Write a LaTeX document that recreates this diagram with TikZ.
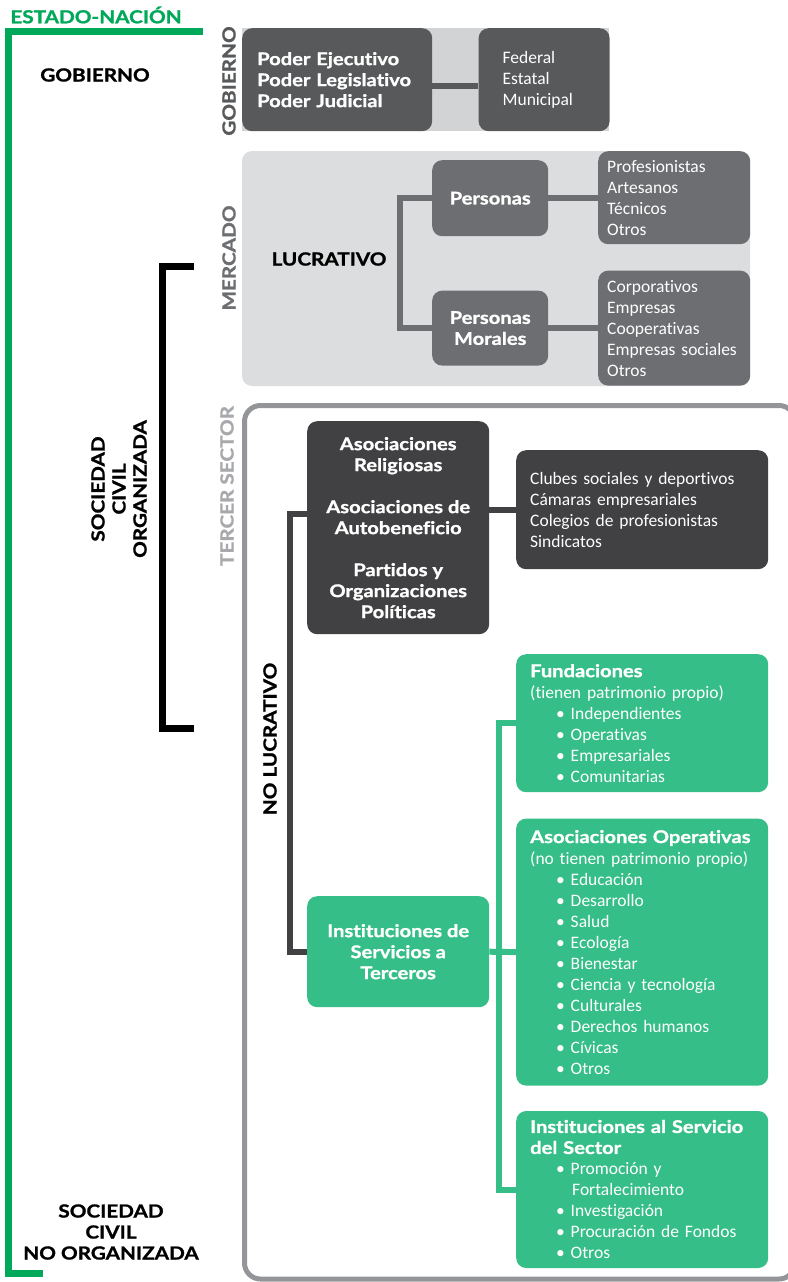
\documentclass[tikz,border=0pt]{standalone}
\usepackage{fontspec}
\setmainfont{Carlito}[Ligatures=NoCommon]
\newfontfamily\hdfont{Lato}[Ligatures=NoCommon,FakeStretch=1.15,BoldFeatures={FakeBold=1.2}]
\usetikzlibrary{positioning}

\definecolor{estado}{HTML}{00A859}
\definecolor{verde}{HTML}{35BE87}
\definecolor{gob}{HTML}{58595B}
\definecolor{merc}{HTML}{6D6E71}
\definecolor{tercer}{HTML}{414042}
\definecolor{fondo}{HTML}{DCDDDE}
\definecolor{fondogob}{HTML}{D1D3D4}
\definecolor{borde}{HTML}{939598}
\definecolor{claro}{HTML}{A7A9AC}

\newcommand{\hd}[1]{{\hdfont\bfseries\fontsize{17.5}{21}\selectfont #1}}
\newcommand{\punto}[1]{\hspace*{26pt}•\ #1}

\begin{document}
\begin{tikzpicture}[x=1pt,y=-1pt,font=\fontsize{17.5}{21}\selectfont,
  caja/.style={rounded corners=10pt,text=white,inner sep=0pt,anchor=north west},
  lista/.style={caja,align=left,inner xsep=11pt},
  titulo/.style={caja,align=center,font=\hdfont\bfseries\fontsize{17.5}{21}\selectfont},
  etiq/.style={font=\hdfont\bfseries\fontsize{18}{21}\selectfont,align=center},
  vert/.style={etiq,rotate=90},
  linea/.style={line width=6pt}]
\useasboundingbox (0,0) rectangle (787,1282);

% fondos
\fill[fondogob] (242,28) rectangle (609,131);
\fill[fondo,rounded corners=10pt] (242,151) rectangle (750,386);
\draw[borde,line width=5pt,rounded corners=16pt] (244.5,405.5) rectangle (795,1279);

% corchetes
\draw[estado,line width=7pt] (203,31.5) -| (8,1273) -- (43,1273);
\draw[black,line width=7pt] (194,266) -| (162,728.5) -- (194,728.5);

% gobierno
\node[caja,fill=gob,align=left,inner xsep=15pt,text width=160pt,minimum width=190pt,minimum height=103pt,
  font=\hdfont\bfseries\fontsize{17.5}{21}\selectfont] (poderes) at (242,28) {Poder Ejecutivo\\Poder Legislativo\\Poder Judicial};
\node[lista,fill=gob,inner xsep=24pt,text width=83pt,minimum width=131pt,minimum height=103pt,right=46pt of poderes] (niveles) {Federal\\Estatal\\Municipal};

% mercado
\node[titulo,fill=merc,minimum width=116pt,minimum height=76pt] (pers) at (432,160) {Personas};
\node[titulo,fill=merc,minimum width=116pt,minimum height=75pt,below=54pt of pers] (morales) {Personas\\Morales};
\node[lista,fill=merc,inner xsep=9pt,text width=134pt,minimum width=152pt,minimum height=93pt] (fisicas) at (598,151) {Profesionistas\\Artesanos\\Técnicos\\Otros};
\node[lista,fill=merc,inner xsep=9pt,text width=134pt,minimum width=152pt,minimum height=115pt,below=26pt of fisicas] (empresas) {Corporativos\\Empresas\\Cooperativas\\Empresas sociales\\Otros};

% tercer sector
\node[titulo,fill=tercer,minimum width=182pt,minimum height=213pt] (asoc) at (307,421)
  {Asociaciones\\Religiosas\\[21pt]Asociaciones de\\Autobeneficio\\[21pt]Partidos y\\Organizaciones\\Políticas};
\node[lista,fill=tercer,inner xsep=14pt,text width=224pt,minimum width=252pt,minimum height=119pt] (autob) at (516,450)
  {Clubes sociales y deportivos\\Cámaras empresariales\\Colegios de profesionistas\\Sindicatos};
\node[titulo,fill=verde,minimum width=182pt,minimum height=111pt] (inst) at (307,896) {Instituciones de\\Servicios a\\Terceros};
\node[lista,fill=verde,inner xsep=14pt,text width=224pt,minimum width=252pt,minimum height=138pt] (fund) at (516,654)
  {\hd{Fundaciones}\\(tienen patrimonio propio)\\\punto{Independientes}\\\punto{Operativas}\\\punto{Empresariales}\\\punto{Comunitarias}};
\node[lista,fill=verde,inner xsep=14pt,text width=224pt,minimum width=252pt,minimum height=267pt,below=26pt of fund] (asocop)
  {\hd{Asociaciones Operativas}\\(no tienen patrimonio propio)\\\punto{Educación}\\\punto{Desarrollo}\\\punto{Salud}\\\punto{Ecología}\\\punto{Bienestar}\\\punto{Ciencia y tecnología}\\\punto{Culturales}\\\punto{Derechos humanos}\\\punto{Cívicas}\\\punto{Otros}};
\node[lista,fill=verde,inner xsep=14pt,text width=224pt,minimum width=252pt,minimum height=157pt,below=25pt of asocop] (instserv)
  {\hd{Instituciones al Servicio}\\\hd{del Sector}\\\punto{Promoción y}\\\hspace*{42pt}Fortalecimiento\\\punto{Investigación}\\\punto{Procuración de Fondos}\\\punto{Otros}};

% conectores
\draw[linea,gob] ([yshift=-6pt]poderes.east) -- ([yshift=-6pt]niveles.west);
\draw[linea,merc] (pers.west) -- ++(-32,0) |- (morales.west);
\draw[linea,merc] (pers.east) -- (pers.east -| fisicas.west);
\draw[linea,merc] (morales.east) -- (morales.east -| empresas.west);
\draw[linea,tercer] ([yshift=14pt]asoc.west) -- ++(-17,0) |- (inst.west);
\draw[linea,tercer] (autob.west -| asoc.east) -- (autob.west);
\draw[linea,verde] (fund.west) -- ++(-17,0) |- (instserv.west);
\draw[linea,verde] (inst.east) -- (asocop.west);

% etiquetas
\node[etiq,text=estado] (estadonacion) at (96,15) {ESTADO-NACIÓN};
\node[etiq] (gobierno) at (95,75) {GOBIERNO};
\node[vert,text=gob] (lgob) at (229,81) {GOBIERNO};
\node[vert,text=merc] (lmerc) at (229,258) {MERCADO};
\node[etiq] (lucrativo) at (329,259) {LUCRATIVO};
\node[vert,text=claro] (ltercer) at (227,486) {TERCER SECTOR};
\node[vert] (organizada) at (119,489) {SOCIEDAD\\CIVIL\\ORGANIZADA};
\node[vert] (nolucrativo) at (270,739) {NO LUCRATIVO};
\node[etiq] (noorganizada) at (111,1232) {SOCIEDAD\\CIVIL\\NO ORGANIZADA};
\end{tikzpicture}
\end{document}
